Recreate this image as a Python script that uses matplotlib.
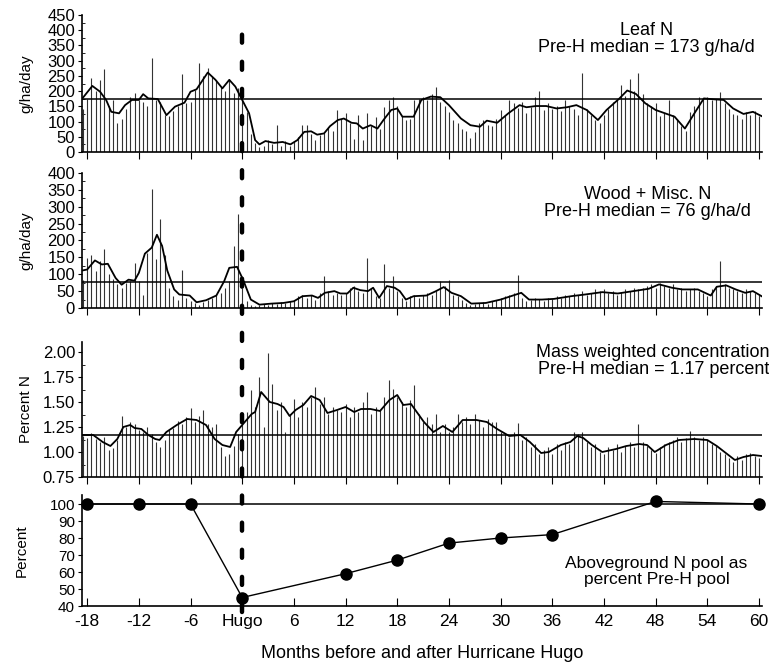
import numpy as np
import matplotlib.pyplot as plt
from matplotlib.lines import Line2D
from matplotlib.ticker import MultipleLocator
from matplotlib.transforms import blended_transform_factory

plt.rcParams["font.family"] = ["Liberation Sans", "DejaVu Sans"]

# litterfall collections, one every half month from -18.5 to 60
bar_months = np.arange(-18.5, 60.01, 0.5)

leaf_bars = [
    140, 175, 243, 200, 237, 272, 150, 170, 95, 110, 140, 182,
    195, 170, 165, 150, 309, 170, 165, 120, 118, 135, 150, 257,
    160, 165, 205, 292, 248, 276, 250, 235, 215, 200, 240, 193,
    210, 175, 130, 60, 28, 18, 20, 40, 25, 88, 20, 35,
    20, 35, 50, 90, 88, 60, 40, 55, 62, 78, 70, 138,
    110, 127, 95, 44, 121, 40, 127, 85, 114, 75, 149, 171,
    182, 150, 118, 105, 110, 171, 175, 180, 170, 190, 213, 165,
    150, 130, 105, 95, 77, 70, 45, 65, 95, 105, 90, 85,
    110, 138, 120, 171, 160, 143, 165, 127, 149, 182, 202, 138,
    160, 140, 150, 135, 171, 150, 140, 121, 261, 140, 120, 105,
    95, 120, 140, 165, 175, 220, 185, 239, 200, 261, 190, 160,
    150, 160, 118, 127, 171, 120, 110, 85, 70, 130, 150, 182,
    175, 182, 170, 175, 198, 160, 140, 125, 120, 110, 130, 121,
    135, 118,
]
leaf_smooth_months = [
    -18.7, -17.4, -16.5, -15.8, -15.2, -14.3, -13.6, -12.8, -12, -11.5, -10.9, -9.8,
    -8.8, -7.8, -6.7, -6, -5.3, -4, -3.1, -2.3, -1.5, -0.8, 0, 0.8, 1.5, 2, 2.7,
    3.7, 4.7, 5.6, 6.4, 7.2, 8, 8.7, 9.5, 10.2, 11.1, 11.8, 12.7, 13.3, 14, 14.9,
    15.7, 16.4, 17.3, 18, 18.6, 19.9, 20.8, 21.9, 23, 24, 25.4, 26.5, 27.6, 28.4,
    29.6, 30.9, 32.2, 33, 34.1, 35.3, 36.5, 37.7, 38.8, 40, 41.3, 42.3, 43.8, 44.7,
    45.7, 46.8, 48, 49.1, 50.2, 51.4, 52.5, 53.6, 54.8, 55.9, 57, 58.2, 59.3, 60.3,
]
leaf_smooth = [
    171, 217, 198, 171, 132, 127, 154, 171, 171, 190, 176, 174,
    121, 149, 162, 198, 206, 261, 237, 209, 237, 215, 171, 127, 39, 25, 36,
    30, 33, 25, 39, 66, 68, 57, 61, 85, 105, 110, 96, 94, 77, 88,
    77, 105, 138, 143, 116, 116, 171, 182, 180, 154, 110, 88, 83, 103,
    96, 127, 154, 147, 151, 151, 143, 147, 154, 138, 105, 138, 176, 202,
    191, 160, 138, 127, 116, 77, 127, 176, 173, 171, 143, 125, 132, 118,
]

wood_bars = [
    84, 149, 156, 110, 140, 176, 100, 85, 70, 60, 75, 80,
    134, 80, 40, 164, 352, 146, 265, 156, 60, 35, 25, 114,
    30, 20, 15, 10, 18, 25, 30, 40, 45, 60, 80, 184,
    278, 60, 20, 10, 5, 8, 12, 10, 15, 12, 18, 14,
    20, 25, 35, 40, 30, 38, 25, 45, 96, 50, 40, 45,
    40, 45, 60, 65, 50, 45, 149, 60, 35, 30, 129, 60,
    94, 50, 30, 20, 35, 40, 30, 38, 45, 40, 50, 79,
    65, 84, 40, 35, 25, 15, 10, 12, 15, 18, 12, 20,
    25, 30, 35, 40, 45, 99, 30, 20, 25, 30, 28, 22,
    30, 28, 35, 30, 40, 35, 45, 38, 50, 40, 45, 55,
    50, 55, 45, 50, 40, 48, 55, 50, 60, 55, 60, 65,
    70, 60, 75, 65, 60, 70, 55, 60, 50, 55, 60, 50,
    45, 35, 55, 65, 139, 70, 60, 55, 50, 45, 55, 50,
    45, 40,
]
wood_smooth_months = [
    -18.6, -18, -17.1, -16.3, -15.6, -14.7, -14, -13.2, -12.5, -12, -11.3, -10.5,
    -9.9, -9.3, -8.7, -7.9, -7.3, -6.1, -5.3, -4.2, -3, -2.1, -1.5, -0.6, 0.1, 1,
    2, 3.4, 4.8, 6, 7, 8.1, 8.8, 9.6, 10.7, 11.4, 12.2, 12.9, 13.7, 14.6, 15.2,
    15.9, 16.8, 17.7, 18.3, 19, 19.9, 21.4, 22.5, 23.4, 24.3, 25.4, 26.6, 28.3,
    30, 31.2, 32.4, 33.3, 34.8, 36.2, 38.2, 39.8, 41.8, 43.6, 45.4, 47.2, 48.4,
    49.9, 51.1, 52.9, 54.4, 55.1, 56.2, 57.3, 58.4, 59.3, 60.3,
]
wood_smooth = [
    111, 114, 141, 129, 131, 89, 69, 84, 81, 104, 161, 179,
    217, 184, 111, 55, 40, 37, 17, 23, 37, 79, 119, 122, 84, 25,
    10, 13, 15, 20, 35, 37, 30, 45, 50, 43, 43, 60, 53, 50, 60,
    30, 65, 60, 50, 25, 35, 37, 50, 62, 45, 35, 13, 15,
    25, 35, 45, 25, 25, 27, 35, 40, 47, 43, 50, 57, 70,
    60, 55, 55, 37, 63, 67, 55, 45, 50, 35,
]

conc_bars = [
    1.16, 1.14, 1.19, 1.13, 1.10, 1.15, 1.02, 1.04, 1.12, 1.36, 1.25, 1.30,
    1.28, 1.22, 1.20, 1.25, 1.18, 1.10, 1.05, 1.12, 1.22, 1.24, 1.31, 1.28,
    1.35, 1.44, 1.30, 1.36, 1.42, 1.28, 1.25, 1.28, 1.05, 0.96, 0.98, 1.06,
    1.18, 1.28, 1.40, 1.62, 1.45, 1.75, 1.25, 1.99, 1.68, 1.42, 1.50, 1.20,
    1.38, 1.53, 1.35, 1.50, 1.45, 1.55, 1.65, 1.48, 1.55, 1.38, 1.45, 1.42,
    1.40, 1.48, 1.35, 1.45, 1.40, 1.50, 1.60, 1.38, 1.45, 1.42, 1.55, 1.72,
    1.63, 1.55, 1.50, 1.45, 1.52, 1.67, 1.38, 1.30, 1.35, 1.28, 1.38, 1.20,
    1.28, 1.20, 1.25, 1.38, 1.30, 1.35, 1.28, 1.38, 1.32, 1.25, 1.33, 1.30,
    1.30, 1.20, 1.18, 1.15, 1.20, 1.29, 1.12, 1.15, 1.05, 1.08, 0.98, 1.02,
    1.05, 0.98, 1.08, 1.02, 1.10, 1.08, 1.20, 1.18, 1.20, 1.10, 1.05, 1.08,
    1.00, 0.98, 1.05, 1.02, 1.08, 1.00, 1.06, 1.10, 1.05, 1.28, 1.10, 1.06,
    1.02, 0.99, 1.05, 1.08, 1.10, 1.12, 1.15, 1.10, 1.14, 1.21, 1.15, 1.12,
    1.15, 1.12, 1.08, 1.06, 1.00, 0.98, 0.94, 0.90, 0.96, 0.92, 0.98, 0.99,
    0.96, 0.94,
]
conc_smooth_months = [
    -18.7, -17.3, -16.2, -15.3, -14.5, -13.8, -13, -12.5, -11.7, -10.9, -10.1, -9.6,
    -8.8, -7.6, -6.4, -5.3, -4.2, -3.2, -2.3, -1.4, -0.7, 0.1, 1.1, 1.5, 2.2, 3.2,
    4.1, 4.8, 5.5, 6.2, 7.1, 8, 9, 9.9, 11, 12, 13, 13.8, 14.9, 16, 17.1, 18,
    18.7, 19.6, 21.1, 22.2, 23.3, 24.4, 25.6, 27.2, 28.4, 29.6, 31, 32.3, 33.4,
    34.7, 35.6, 37, 38.1, 38.9, 39.6, 40.6, 41.8, 43.4, 44.6, 46.1, 47, 47.9,
    49.2, 50.7, 52.5, 54, 55.1, 56.3, 57.2, 58.2, 59.3, 60.3,
]
conc_smooth = [
    1.17, 1.17, 1.10, 1.06, 1.13, 1.25, 1.27, 1.24, 1.23, 1.17, 1.13, 1.12,
    1.20, 1.27, 1.33, 1.32, 1.27, 1.13, 1.07, 1.05, 1.20, 1.28, 1.38, 1.40, 1.60, 1.50,
    1.48, 1.45, 1.36, 1.42, 1.47, 1.56, 1.52, 1.39, 1.42, 1.45, 1.40, 1.43, 1.43, 1.41, 1.52, 1.57,
    1.47, 1.48, 1.30, 1.20, 1.26, 1.20, 1.32, 1.32, 1.30, 1.23, 1.16, 1.17, 1.10,
    0.99, 1.00, 1.07, 1.10, 1.16, 1.14, 1.07, 1.00, 1.03, 1.06, 1.08, 1.07, 1.00,
    1.07, 1.12, 1.13, 1.12, 1.06, 0.98, 0.92, 0.95, 0.97, 0.96,
]

pool_months = [-18, -12, -6, 0, 12, 18, 24, 30, 36, 48, 60]
pool_pct = [100, 100, 100, 45, 59, 67, 77, 80, 82, 101.5, 100]

month_ticks = [-18, -12, -6, 0, 6, 12, 18, 24, 30, 36, 42, 48, 54, 60]
month_labels = ["-18", "-12", "-6", "Hugo", "6", "12", "18", "24",
                "30", "36", "42", "48", "54", "60"]


def main():
    W, H = 769, 668
    fig = plt.figure(figsize=(W / 100, H / 100), dpi=100)

    def rect(top, bottom):
        return [82 / W, 1 - bottom / H, 680 / W, (bottom - top) / H]

    ax1 = fig.add_axes(rect(15, 152))
    ax2 = fig.add_axes(rect(173, 308))
    ax3 = fig.add_axes(rect(342, 477))
    ax4 = fig.add_axes(rect(495, 606))

    panels = [
        (ax1, leaf_bars, leaf_smooth_months, leaf_smooth, 173, 0, (0, 450),
         np.arange(0, 451, 50), 25, "g/ha/day",
         "Leaf N\nPre-H median = 173 g/ha/d", 0.83, 0.825),
        (ax2, wood_bars, wood_smooth_months, wood_smooth, 76, 0, (0, 400),
         np.arange(0, 401, 50), 25, "g/ha/day",
         "Wood + Misc. N\nPre-H median = 76 g/ha/d", 0.832, 0.778),
        (ax3, conc_bars, conc_smooth_months, conc_smooth, 1.17, 0.75, (0.75, 2.10),
         [0.75, 1.00, 1.25, 1.50, 1.75, 2.00], 0.125, "Percent N",
         "Mass weighted concentration\nPre-H median = 1.17 percent", 0.84, 0.86),
    ]

    for ax, bars, sm_x, sm_y, med, base, ylim, yticks, minor, ylab, label, tx, ty in panels:
        ax.vlines(bar_months, base, bars, color="0.2", lw=0.8)
        ax.plot(sm_x, sm_y, color="black", lw=1.3)
        ax.axhline(med, color="black", lw=1.1)
        ax.set_ylim(*ylim)
        ax.set_yticks(yticks)
        ax.yaxis.set_minor_locator(MultipleLocator(minor))
        if base == 0.75:
            ax.set_yticklabels([f"{v:.2f}" for v in yticks])
        ax.set_ylabel(ylab, fontsize=11)
        ax.text(tx, ty, label, transform=ax.transAxes, ha="center", va="center",
                fontsize=13, linespacing=1.05)
        ax.tick_params(axis="x", direction="out", length=5, labelbottom=False)
        ax.tick_params(axis="y", labelsize=12)
        ax.yaxis.set_label_coords(-0.072, 0.5)

    ax4.axhline(100, color="black", lw=1.1)
    ax4.plot(pool_months, pool_pct, color="black", lw=1.0, marker="o",
             markersize=8, clip_on=False)
    ax4.set_ylim(40, 105.3)
    ax4.set_yticks(np.arange(40, 101, 10))
    ax4.set_ylabel("Percent", fontsize=11)
    ax4.yaxis.set_label_coords(-0.079, 0.5)
    ax4.text(0.845, 0.31, "Aboveground N pool as\npercent Pre-H pool",
             transform=ax4.transAxes, ha="center", va="center",
             fontsize=12.5, linespacing=1.05)
    ax4.tick_params(axis="x", direction="in", length=6, pad=6, labelsize=12.5)
    ax4.tick_params(axis="y", labelsize=11)
    ax4.set_xlabel("Months before and after Hurricane Hugo", fontsize=13)
    ax4.xaxis.set_label_coords(0.5, -0.35)

    for ax in (ax1, ax2, ax3, ax4):
        ax.set_xlim(-18.6, 60.35)
        ax.set_xticks(month_ticks)
        ax.spines["top"].set_visible(False)
        ax.spines["right"].set_visible(False)
        ax.spines["left"].set_linewidth(1.2)
        ax.spines["bottom"].set_linewidth(1.2)
        ax.tick_params(axis="y", which="major", direction="out", length=3, pad=2)
        ax.tick_params(axis="y", which="minor", direction="in", length=2.5)
    ax4.set_xticklabels(month_labels)

    # hurricane date, dashed line through all panels
    trans = blended_transform_factory(ax4.transData, fig.transFigure)
    fig.add_artist(Line2D([0, 0], [0.084, 0.972], transform=trans, color="black",
                          lw=3.2, dashes=(1.8, 4.3), dash_capstyle="round"))

    fig.savefig("out.png", dpi=100)
    plt.close(fig)


if __name__ == "__main__":
    main()
